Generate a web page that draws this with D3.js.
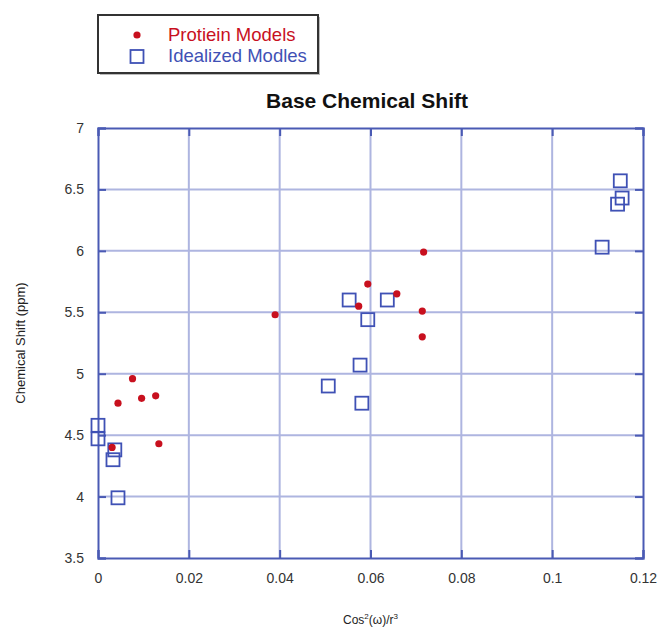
<!DOCTYPE html>
<html>
<head>
<meta charset="utf-8">
<script src="https://cdn.jsdelivr.net/npm/d3@7"></script>
<style>
  body { margin: 0; background: #fff; }
  text { font-family: "Liberation Sans", Arial, sans-serif; }
</style>
</head>
<body>
<svg id="svg" width="657" height="628"></svg>
<script>
// data
const proteinX = [0.0031, 0.0044, 0.0076, 0.0096, 0.0127, 0.0134, 0.0390, 0.0574, 0.0594, 0.0658, 0.0714, 0.0714, 0.0717];
const proteinY = [4.40, 4.76, 4.96, 4.80, 4.82, 4.43, 5.48, 5.55, 5.73, 5.65, 5.51, 5.30, 5.99];

const idealX = [0.0, 0.0, 0.0037, 0.0033, 0.0044, 0.0507, 0.0553, 0.0577, 0.0581, 0.0594, 0.0637, 0.1110, 0.1144, 0.1150, 0.1154];
const idealY = [4.58, 4.47, 4.38, 4.30, 3.99, 4.90, 5.60, 5.07, 4.76, 5.44, 5.60, 6.03, 6.38, 6.57, 6.43];

const xTicks = [0, 0.02, 0.04, 0.06, 0.08, 0.1, 0.12];
const yTicks = [3.5, 4, 4.5, 5, 5.5, 6, 6.5, 7];

const legendLabels = ['Protiein Models', 'Idealized Modles'];

// layout
const plotLeft = 98, plotRight = 643, plotTop = 128, plotBottom = 558;
const gridColor = '#aeb5e0';
const frameColor = '#4a5ab4';
const red = '#c8101e';
const blue = '#3f51b5';

let svg = d3.select('#svg');

let x = d3.scaleLinear().domain([0, 0.12]).range([plotLeft, plotRight]);
let y = d3.scaleLinear().domain([3.5, 7]).range([plotBottom, plotTop]);

// grid
svg.append('g').selectAll('line')
    .data(xTicks.slice(1, -1))
    .enter().append('line')
    .attr('x1', d => x(d)).attr('x2', d => x(d))
    .attr('y1', plotTop).attr('y2', plotBottom)
    .attr('stroke', gridColor).attr('stroke-width', 2);

svg.append('g').selectAll('line')
    .data(yTicks.slice(1, -1))
    .enter().append('line')
    .attr('x1', plotLeft).attr('x2', plotRight)
    .attr('y1', d => y(d)).attr('y2', d => y(d))
    .attr('stroke', gridColor).attr('stroke-width', 2);

// axes with inward ticks
let axisB = svg.append('g').attr('transform', 'translate(0,' + plotBottom + ')')
    .call(d3.axisBottom(x).tickValues(xTicks).tickSize(-8).tickPadding(15).tickFormat(d3.format('')));
let axisT = svg.append('g').attr('transform', 'translate(0,' + plotTop + ')')
    .call(d3.axisTop(x).tickValues(xTicks).tickSize(-8).tickFormat(''));
let axisL = svg.append('g').attr('transform', 'translate(' + plotLeft + ',0)')
    .call(d3.axisLeft(y).tickValues(yTicks).tickSize(-8).tickPadding(14).tickFormat(d3.format('')));
let axisR = svg.append('g').attr('transform', 'translate(' + plotRight + ',0)')
    .call(d3.axisRight(y).tickValues(yTicks).tickSize(-8).tickFormat(''));

[axisB, axisT, axisL, axisR].forEach(a => {
    a.select('.domain').attr('stroke', frameColor).attr('stroke-width', 2);
    a.selectAll('.tick line').attr('stroke', frameColor).attr('stroke-width', 2);
    a.selectAll('.tick text').attr('fill', '#333').attr('font-size', 14)
        .attr('font-family', '"Liberation Sans", Arial, sans-serif');
});

// points
svg.append('g').selectAll('rect')
    .data(idealX)
    .enter().append('rect')
    .attr('x', (d, i) => x(d) - 6.5)
    .attr('y', (d, i) => y(idealY[i]) - 6.5)
    .attr('width', 13).attr('height', 13)
    .attr('fill', 'none')
    .attr('stroke', blue).attr('stroke-width', 1.8);

svg.append('g').selectAll('circle')
    .data(proteinX)
    .enter().append('circle')
    .attr('cx', d => x(d))
    .attr('cy', (d, i) => y(proteinY[i]))
    .attr('r', 3.6)
    .attr('fill', red);

// title and axis labels
svg.append('text')
    .attr('x', 367).attr('y', 108)
    .attr('text-anchor', 'middle')
    .attr('font-size', 21).attr('font-weight', 'bold')
    .attr('fill', '#111')
    .text('Base Chemical Shift');

svg.append('text')
    .attr('transform', 'translate(25,' + (plotTop + plotBottom) / 2 + ') rotate(-90)')
    .attr('text-anchor', 'middle')
    .attr('font-size', 13).attr('fill', '#222')
    .text('Chemical Shift (ppm)');

let xl = svg.append('text')
    .attr('x', (plotLeft + plotRight) / 2).attr('y', 624)
    .attr('text-anchor', 'middle')
    .attr('font-size', 12).attr('fill', '#222');
xl.append('tspan').text('Cos');
xl.append('tspan').attr('dy', -5).attr('font-size', 8).text('2');
xl.append('tspan').attr('dy', 5).text('(ω)/r');
xl.append('tspan').attr('dy', -5).attr('font-size', 8).text('3');

// legend
svg.append('rect')
    .attr('x', 100).attr('y', 17).attr('width', 220).attr('height', 58)
    .attr('fill', '#bbb');
svg.append('rect')
    .attr('x', 98).attr('y', 15).attr('width', 220).attr('height', 58)
    .attr('fill', '#fff').attr('stroke', '#333').attr('stroke-width', 2);

svg.append('circle')
    .attr('cx', 137).attr('cy', 35).attr('r', 3.6).attr('fill', red);
svg.append('rect')
    .attr('x', 130.5).attr('y', 50).attr('width', 13).attr('height', 13)
    .attr('fill', 'none').attr('stroke', blue).attr('stroke-width', 1.8);

svg.append('g').selectAll('text')
    .data(legendLabels)
    .enter().append('text')
    .attr('x', 168)
    .attr('y', (d, i) => 41 + i * 21)
    .attr('font-size', 18.5)
    .attr('fill', (d, i) => i === 0 ? red : blue)
    .text(d => d);
</script>
</body>
</html>
